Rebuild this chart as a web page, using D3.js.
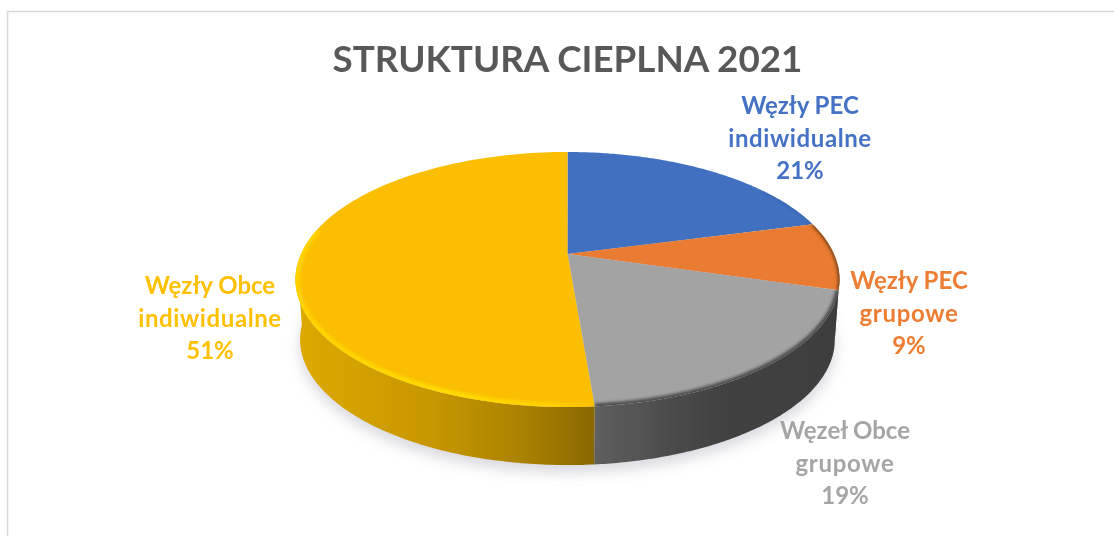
<!DOCTYPE html>
<html><head><meta charset="utf-8">
<script src="https://cdnjs.cloudflare.com/ajax/libs/d3/7.8.5/d3.min.js"></script>
<style>html,body{margin:0;padding:0;background:#fff}svg{display:block}text{font-family:Lato,"Open Sans",sans-serif;font-weight:700}</style>
</head><body>
<svg id="c" width="1114" height="536"></svg>
<script>
const titleText = "STRUKTURA CIEPLNA 2021";
const categories = [["Węzły PEC","indiwidualne"],["Węzły PEC","grupowe"],["Węzeł Obce","grupowe"],["Węzły Obce","indiwidualne"]];
const values = [20.9, 8.6, 19.2, 51.3];
const colors = ["#4170BF","#E97B30","#A3A3A3","#FBBE00"];
const labelColors = ["#4472C4","#ED7D31","#A5A5A5","#FFC000"];
const labelCentres = [[800,114],[909,289],[845,439],[210,294]];
const lineStep = 32.5;
const tracking = {"indiwidualne":.6,"grupowe":.7};

const svg = d3.select("#c");
const defs = svg.append("defs");
[["soft",.4],["b1",1.5],["b2",1.8],["b6",7]].forEach(([id,s])=>{
  defs.append("filter").attr("id",id).attr("x","-20%").attr("y","-20%").attr("width","140%").attr("height","140%")
    .append("feGaussianBlur").attr("stdDeviation",s);
});
function grad(id,x1,x2,stops){
  const g=defs.append("linearGradient").attr("id",id).attr("gradientUnits","userSpaceOnUse")
    .attr("x1",x1).attr("x2",x2).attr("y1",0).attr("y2",0);
  stops.forEach(([o,c,a])=>g.append("stop").attr("offset",o).attr("stop-color",c).attr("stop-opacity",a===undefined?1:a));
}
grad("sideY",297,596,[[0,"#DDA900"],[.45,"#C79700"],[.75,"#AB8200"],[1,"#886700"]]);
grad("sideG",595,838,[[0,"#5F5F5F"],[.3,"#4C4C4C"],[.55,"#404040"],[1,"#3E3E3E"]]);
grad("sideO",820,840,[[0,"#7A4A20"],[1,"#6A4020"]]);
grad("hiY",296,600,[[0,"#FFD300"],[.55,"#FFDC00"],[.85,"#FFD000"],[1,"#FFC400",.5]]);

// Perspective disc: a circle in its own plane, seen with foreshortening toward the front edge
const persp = .2;
function disc(cx,cy,A,B){
  return a=>{ const u=Math.sin(a), v=Math.cos(a), w=1+persp*v;
    return [cx+A*u/w, cy-B*v/w]; };
}
const apex = [567.5,254];
const topDisc = disc(apex[0],apex[1],266.5,122.4);
const botDisc = disc(567.5,314.3,262,120.6);
const TAU = 2*Math.PI;
const line = d3.line();
const arcPts = (f,a0,a1)=>d3.range(0,121).map(i=>f(a0+(a1-a0)*i/120));

const arcs = d3.pie().sort(null)(values);
const root = svg.append("g").attr("filter","url(#soft)");

// frame
root.append("path").attr("d",line([[7.5,540],[7.5,11.5],[1120,11.5]])).attr("fill","none").attr("stroke","#D9D9D9").attr("stroke-width",1.6);

// title
root.append("text").attr("x",567.5).attr("y",72).attr("text-anchor","middle").attr("font-size",36.8).attr("fill","#595959").text(titleText);

// shadow
root.append("path").attr("d",line(arcPts(botDisc,0,TAU))+"Z").attr("transform","translate(0,7)").attr("fill","#BDBDC8").attr("opacity",.6).attr("filter","url(#b6)");

// sides
const visLo = 95*Math.PI/180, visHi = 265*Math.PI/180;
const sideFill = ["none","url(#sideO)","url(#sideG)","url(#sideY)"];
[1,2,3].forEach(i=>{
  const a0=Math.max(arcs[i].startAngle,visLo), a1=Math.min(arcs[i].endAngle,visHi);
  root.append("path").attr("d",line(arcPts(topDisc,a0,a1).concat(arcPts(botDisc,a1,a0)))+"Z").attr("fill",sideFill[i]);
});

// top faces
const face = d => line([apex].concat(arcPts(topDisc,d.startAngle,d.endAngle)))+"Z";
arcs.forEach((d,i)=>{
  defs.append("clipPath").attr("id","cl"+i).append("path").attr("d",face(d));
  root.append("path").attr("d",face(d)).attr("fill",colors[i]);
});

// bevel along the rim
const rim=(i,a0,a1,stroke,w,f,op)=>root.append("g").attr("clip-path",`url(#cl${i})`)
  .append("path").attr("d",line(arcPts(topDisc,a0,a1))).attr("fill","none").attr("stroke",stroke)
  .attr("stroke-width",w).attr("filter",f).attr("opacity",op);
rim(3,arcs[3].startAngle,282*Math.PI/180,"url(#hiY)",9,"url(#b1)",.95);
rim(2,arcs[2].startAngle,arcs[2].endAngle,"#3E3E3E",6,"url(#b2)",.85);
rim(1,arcs[1].startAngle,arcs[1].endAngle,"#5A3414",3.5,"url(#b1)",.8);
rim(0,55*Math.PI/180,arcs[0].endAngle,"#2F5597",2,"url(#b1)",.5);

// labels
arcs.forEach((d,i)=>{
  const [x,y]=labelCentres[i];
  const t=root.append("text").attr("text-anchor","middle").attr("font-size",24).attr("fill",labelColors[i]);
  categories[i].concat([Math.round(values[i])+"%"]).forEach((s,k)=>
    t.append("tspan").attr("x",x).attr("y",y+k*lineStep).attr("letter-spacing",tracking[s]||0).text(s));
});
</script>
</body></html>
